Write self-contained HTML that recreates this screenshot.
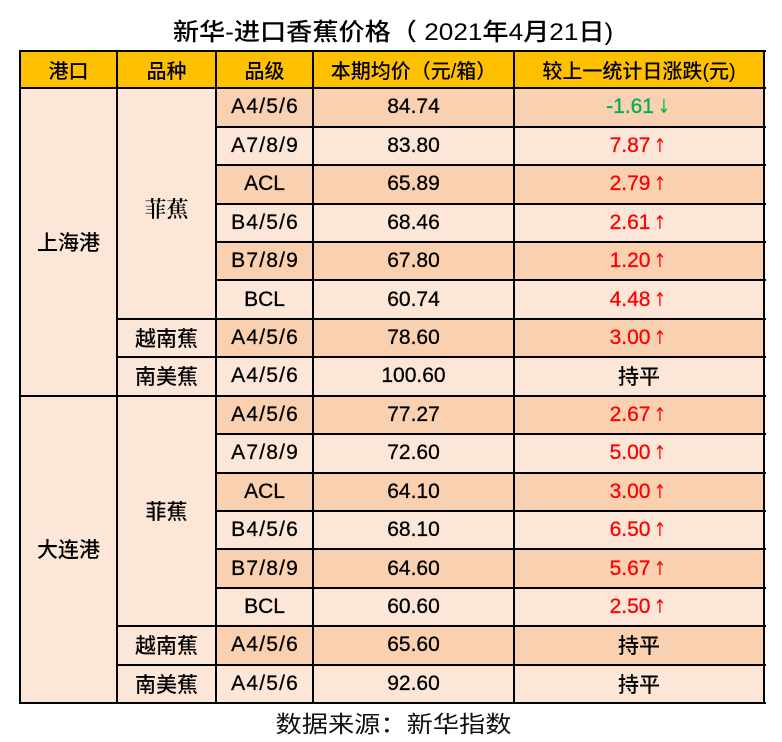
<!DOCTYPE html>
<html>
<head>
<meta charset="utf-8">
<style>
  html,body{margin:0;padding:0;background:#fff;}
  body{width:782px;height:742px;position:relative;overflow:hidden;
       font-family:"Liberation Sans","Noto Sans CJK SC",sans-serif;color:#000;}
  .bg{position:absolute;}
  .h{position:absolute;height:2px;background:#000;}
  .v{position:absolute;width:2px;background:#000;}
  .t{position:absolute;display:flex;align-items:center;justify-content:center;font-size:21px;white-space:nowrap;-webkit-text-stroke:0.3px currentColor;}
  .cj{font-weight:500;-webkit-text-stroke:0;}
  .hd{font-size:20px;font-weight:500;-webkit-text-stroke:0;}
  .g{letter-spacing:1.2px;padding-left:1.2px;box-sizing:border-box;}
  .red{color:#ff0000;}
  .grn{color:#00b050;}
  .sx{display:inline-block;}
  .ar{font-family:"DejaVu Sans",sans-serif;font-size:19px;margin-left:2px;display:inline-block;transform:scaleX(0.8);-webkit-text-stroke:0;}
</style>
</head>
<body>
<!-- title -->
<div class="t" style="left:0;width:787px;top:10px;height:38px;font-size:24px;font-weight:500;-webkit-text-stroke:0;">
  <span class="sx" style="transform:scaleX(1.09);">新华-进口香蕉价格（ 2021年4月21日)</span>
</div>

<!-- backgrounds -->
<div class="bg" style="left:20px;top:51px;width:744px;height:37.3px;background:#ffc000;"></div>
<div class="bg" style="left:20px;top:88.3px;width:744px;height:614.7px;background:#fce6d8;"></div>
<!-- dark rows -->
<div class="bg" style="left:216px;top:88.3px;width:548px;height:38.4px;background:#f9d1b1;"></div>
<div class="bg" style="left:216px;top:165.1px;width:548px;height:38.5px;background:#f9d1b1;"></div>
<div class="bg" style="left:216px;top:242.0px;width:548px;height:38.4px;background:#f9d1b1;"></div>
<div class="bg" style="left:216px;top:318.8px;width:548px;height:38.4px;background:#f9d1b1;"></div>
<div class="bg" style="left:216px;top:395.7px;width:548px;height:38.4px;background:#f9d1b1;"></div>
<div class="bg" style="left:216px;top:472.5px;width:548px;height:38.4px;background:#f9d1b1;"></div>
<div class="bg" style="left:216px;top:549.3px;width:548px;height:38.5px;background:#f9d1b1;"></div>
<div class="bg" style="left:216px;top:626.2px;width:548px;height:38.4px;background:#f9d1b1;"></div>

<!-- horizontal lines -->
<div class="h" style="left:19px;width:747px;top:50px;"></div>
<div class="h" style="left:19px;width:747px;top:87.3px;"></div>
<div class="h" style="left:216px;width:550px;top:125.7px;"></div>
<div class="h" style="left:216px;width:550px;top:164.1px;"></div>
<div class="h" style="left:216px;width:550px;top:202.6px;"></div>
<div class="h" style="left:216px;width:550px;top:241.0px;"></div>
<div class="h" style="left:216px;width:550px;top:279.4px;"></div>
<div class="h" style="left:117px;width:649px;top:317.8px;"></div>
<div class="h" style="left:117px;width:649px;top:356.2px;"></div>
<div class="h" style="left:19px;width:747px;top:394.7px;"></div>
<div class="h" style="left:216px;width:550px;top:433.1px;"></div>
<div class="h" style="left:216px;width:550px;top:471.5px;"></div>
<div class="h" style="left:216px;width:550px;top:509.9px;"></div>
<div class="h" style="left:216px;width:550px;top:548.3px;"></div>
<div class="h" style="left:216px;width:550px;top:586.8px;"></div>
<div class="h" style="left:117px;width:649px;top:625.2px;"></div>
<div class="h" style="left:117px;width:649px;top:663.6px;"></div>
<div class="h" style="left:19px;width:747px;top:702px;"></div>

<!-- vertical lines -->
<div class="v" style="left:19px;top:50px;height:654px;"></div>
<div class="v" style="left:116px;top:50px;height:654px;"></div>
<div class="v" style="left:215px;top:50px;height:654px;"></div>
<div class="v" style="left:312px;top:50px;height:654px;"></div>
<div class="v" style="left:513px;top:50px;height:654px;"></div>
<div class="v" style="left:763px;top:50px;height:654px;"></div>

<!-- header text -->
<div class="t hd" style="left:20px;width:97px;top:51px;height:37px;">港口</div>
<div class="t hd" style="left:117px;width:99px;top:51px;height:37px;">品种</div>
<div class="t hd" style="left:216px;width:97px;top:51px;height:37px;">品级</div>
<div class="t hd" style="left:313px;width:201px;top:51px;height:37px;">本期均价（元/箱）</div>
<div class="t hd" style="left:514px;width:250px;top:51px;height:37px;">较上一统计日涨跌(元)</div>

<!-- port labels -->
<div class="t cj" style="left:20px;width:97px;top:88.3px;height:307.4px;">上海港</div>
<div class="t cj" style="left:20px;width:97px;top:395.7px;height:307.3px;">大连港</div>

<!-- variety labels -->
<div class="t" style="left:117px;width:99px;top:93px;height:230.5px;font-family:'Noto Serif CJK SC',serif;font-size:22px;font-weight:600;-webkit-text-stroke:0;">菲蕉</div>
<div class="t cj" style="left:117px;width:99px;top:318.8px;height:38.4px;">越南蕉</div>
<div class="t cj" style="left:117px;width:99px;top:357.2px;height:38.5px;">南美蕉</div>
<div class="t cj" style="left:117px;width:99px;top:395.7px;height:230.5px;">菲蕉</div>
<div class="t cj" style="left:117px;width:99px;top:626.2px;height:38.4px;">越南蕉</div>
<div class="t cj" style="left:117px;width:99px;top:664.6px;height:38.4px;">南美蕉</div>

<!-- grade column -->
<div class="t g" style="left:216px;width:97px;top:88.3px;height:38.4px;">A4/5/6</div>
<div class="t g" style="left:216px;width:97px;top:126.7px;height:38.4px;">A7/8/9</div>
<div class="t" style="left:216px;width:97px;top:165.1px;height:38.5px;">ACL</div>
<div class="t g" style="left:216px;width:97px;top:203.6px;height:38.4px;">B4/5/6</div>
<div class="t g" style="left:216px;width:97px;top:242.0px;height:38.4px;">B7/8/9</div>
<div class="t" style="left:216px;width:97px;top:280.4px;height:38.4px;">BCL</div>
<div class="t g" style="left:216px;width:97px;top:318.8px;height:38.4px;">A4/5/6</div>
<div class="t g" style="left:216px;width:97px;top:357.2px;height:38.5px;">A4/5/6</div>
<div class="t g" style="left:216px;width:97px;top:395.7px;height:38.4px;">A4/5/6</div>
<div class="t g" style="left:216px;width:97px;top:434.1px;height:38.4px;">A7/8/9</div>
<div class="t" style="left:216px;width:97px;top:472.5px;height:38.4px;">ACL</div>
<div class="t g" style="left:216px;width:97px;top:510.9px;height:38.4px;">B4/5/6</div>
<div class="t g" style="left:216px;width:97px;top:549.3px;height:38.5px;">B7/8/9</div>
<div class="t" style="left:216px;width:97px;top:587.8px;height:38.4px;">BCL</div>
<div class="t g" style="left:216px;width:97px;top:626.2px;height:38.4px;">A4/5/6</div>
<div class="t g" style="left:216px;width:97px;top:664.6px;height:38.4px;">A4/5/6</div>

<!-- price column -->
<div class="t" style="left:313px;width:201px;top:88.3px;height:38.4px;">84.74</div>
<div class="t" style="left:313px;width:201px;top:126.7px;height:38.4px;">83.80</div>
<div class="t" style="left:313px;width:201px;top:165.1px;height:38.5px;">65.89</div>
<div class="t" style="left:313px;width:201px;top:203.6px;height:38.4px;">68.46</div>
<div class="t" style="left:313px;width:201px;top:242.0px;height:38.4px;">67.80</div>
<div class="t" style="left:313px;width:201px;top:280.4px;height:38.4px;">60.74</div>
<div class="t" style="left:313px;width:201px;top:318.8px;height:38.4px;">78.60</div>
<div class="t" style="left:313px;width:201px;top:357.2px;height:38.5px;">100.60</div>
<div class="t" style="left:313px;width:201px;top:395.7px;height:38.4px;">77.27</div>
<div class="t" style="left:313px;width:201px;top:434.1px;height:38.4px;">72.60</div>
<div class="t" style="left:313px;width:201px;top:472.5px;height:38.4px;">64.10</div>
<div class="t" style="left:313px;width:201px;top:510.9px;height:38.4px;">68.10</div>
<div class="t" style="left:313px;width:201px;top:549.3px;height:38.5px;">64.60</div>
<div class="t" style="left:313px;width:201px;top:587.8px;height:38.4px;">60.60</div>
<div class="t" style="left:313px;width:201px;top:626.2px;height:38.4px;">65.60</div>
<div class="t" style="left:313px;width:201px;top:664.6px;height:38.4px;">92.60</div>

<!-- change column -->
<div class="t grn" style="left:514px;width:250px;top:88.3px;height:38.4px;">-1.61<span class="ar">↓</span></div>
<div class="t red" style="left:514px;width:250px;top:126.7px;height:38.4px;">7.87<span class="ar">↑</span></div>
<div class="t red" style="left:514px;width:250px;top:165.1px;height:38.5px;">2.79<span class="ar">↑</span></div>
<div class="t red" style="left:514px;width:250px;top:203.6px;height:38.4px;">2.61<span class="ar">↑</span></div>
<div class="t red" style="left:514px;width:250px;top:242.0px;height:38.4px;">1.20<span class="ar">↑</span></div>
<div class="t red" style="left:514px;width:250px;top:280.4px;height:38.4px;">4.48<span class="ar">↑</span></div>
<div class="t red" style="left:514px;width:250px;top:318.8px;height:38.4px;">3.00<span class="ar">↑</span></div>
<div class="t cj" style="left:514px;width:250px;top:357.2px;height:38.5px;">持平</div>
<div class="t red" style="left:514px;width:250px;top:395.7px;height:38.4px;">2.67<span class="ar">↑</span></div>
<div class="t red" style="left:514px;width:250px;top:434.1px;height:38.4px;">5.00<span class="ar">↑</span></div>
<div class="t red" style="left:514px;width:250px;top:472.5px;height:38.4px;">3.00<span class="ar">↑</span></div>
<div class="t red" style="left:514px;width:250px;top:510.9px;height:38.4px;">6.50<span class="ar">↑</span></div>
<div class="t red" style="left:514px;width:250px;top:549.3px;height:38.5px;">5.67<span class="ar">↑</span></div>
<div class="t red" style="left:514px;width:250px;top:587.8px;height:38.4px;">2.50<span class="ar">↑</span></div>
<div class="t cj" style="left:514px;width:250px;top:626.2px;height:38.4px;">持平</div>
<div class="t cj" style="left:514px;width:250px;top:664.6px;height:38.4px;">持平</div>

<!-- footer -->
<div class="t" style="left:0;width:787px;top:705px;height:34px;font-size:23px;color:#111;-webkit-text-stroke:0;">
  <span class="sx" style="transform:scaleX(1.14);">数据来源：新华指数</span>
</div>
</body>
</html>
